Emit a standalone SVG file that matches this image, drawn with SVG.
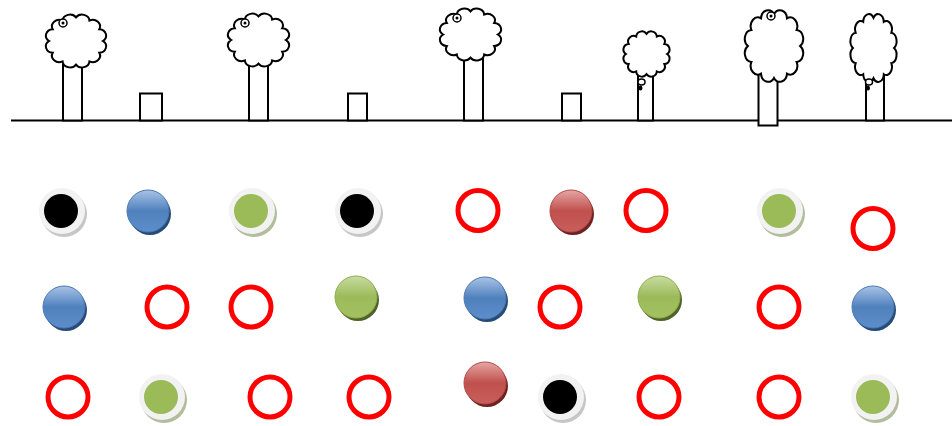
<svg xmlns="http://www.w3.org/2000/svg" xmlns:xlink="http://www.w3.org/1999/xlink" width="952" height="426" viewBox="0 0 952 426">
  <style>
    .line { stroke: #000; stroke-width: 2; fill: none; }
    .trunk { stroke: #000; stroke-width: 2; fill: #fff; }
    .crown { stroke: #000; stroke-width: 2; fill: #fff; }
    .curl { stroke: #000; stroke-width: 1.5; fill: #fff; }
    .ring { stroke: #ff0000; stroke-width: 5; fill: none; }
    .btn-face { fill: #f2f2f2; }
    .shadow-grey { fill: #c6c6c6; }
    .shadow-sage { fill: #b2bd9c; }
    .dot-black { fill: #000; }
    .dot-green { fill: #9bbb59; }
  </style>
  <defs>
    <!-- scalloped crown outline in a 100x100 box; stroke keeps its width when scaled -->
    <path id="cloud" vector-effect="non-scaling-stroke" d="M92,50 A11.5,11.5 0 0 1 86.4,71 A11.5,11.5 0 0 1 71,86.4 A11.5,11.5 0 0 1 50,92 A11.5,11.5 0 0 1 29,86.4 A11.5,11.5 0 0 1 13.6,71 A11.5,11.5 0 0 1 8,50 A11.5,11.5 0 0 1 13.6,29 A11.5,11.5 0 0 1 29,13.6 A11.5,11.5 0 0 1 50,8 A11.5,11.5 0 0 1 71,13.6 A11.5,11.5 0 0 1 86.4,29 A11.5,11.5 0 0 1 92,50 Z"/>
    <linearGradient id="gBlue" x1="0" y1="0" x2="0" y2="1">
      <stop offset="0" stop-color="#a9c2e6"/>
      <stop offset="0.5" stop-color="#4f81bd"/>
      <stop offset="1" stop-color="#5d8ecb"/>
    </linearGradient>
    <linearGradient id="gRed" x1="0" y1="0" x2="0" y2="1">
      <stop offset="0" stop-color="#e6a6a4"/>
      <stop offset="0.5" stop-color="#c0504d"/>
      <stop offset="1" stop-color="#c85f5c"/>
    </linearGradient>
    <linearGradient id="gGreen" x1="0" y1="0" x2="0" y2="1">
      <stop offset="0" stop-color="#c8dba1"/>
      <stop offset="0.5" stop-color="#9bbb59"/>
      <stop offset="1" stop-color="#a4c162"/>
    </linearGradient>
    <!-- glossy balls: dark rim offset below-right, gradient face -->
    <g id="ballBlue">
      <circle cx="2" cy="3" r="21" fill="#274b78"/>
      <circle cx="0" cy="0" r="21" fill="url(#gBlue)" stroke="#4a79b2" stroke-width="1"/>
    </g>
    <g id="ballRed">
      <circle cx="2" cy="3" r="21" fill="#6f2221"/>
      <circle cx="0" cy="0" r="21" fill="url(#gRed)" stroke="#b44a47" stroke-width="1"/>
    </g>
    <g id="ballGreen">
      <circle cx="2" cy="3" r="21" fill="#4f6228"/>
      <circle cx="0" cy="0" r="21" fill="url(#gGreen)" stroke="#8fae50" stroke-width="1"/>
    </g>
    <!-- flat buttons: pale face, offset shadow, coloured centre -->
    <g id="btnBlack">
      <circle cx="3" cy="3" r="23" class="shadow-grey"/>
      <circle cx="1" cy="0" r="23" class="btn-face"/>
      <circle cx="0" cy="0" r="17" class="dot-black"/>
    </g>
    <g id="btnGreen">
      <circle cx="3" cy="3" r="23" class="shadow-sage"/>
      <circle cx="1" cy="0" r="23" class="btn-face"/>
      <circle cx="0" cy="0" r="17" class="dot-green"/>
    </g>
  </defs>

  <!-- ground -->
  <g id="ground">
    <line x1="11" y1="120.5" x2="952" y2="120.5" class="line"/>
  </g>

  <!-- trees and houses -->
  <g id="tree1">
    <rect x="63" y="55" width="19" height="65.5" class="trunk"/>
    <use xlink:href="#cloud" class="crown" transform="translate(44,13) scale(0.64,0.56)"/>
    <circle cx="63" cy="23" r="4" class="curl"/>
    <circle cx="63" cy="23" r="1.5" fill="#000"/>
  </g>
  <g id="house1">
    <rect x="140" y="93.5" width="22" height="27" class="trunk"/>
  </g>
  <g id="tree2">
    <rect x="249" y="55" width="19" height="65.5" class="trunk"/>
    <use xlink:href="#cloud" class="crown" transform="translate(226,12) scale(0.65,0.56)"/>
    <circle cx="245" cy="23" r="4" class="curl"/>
    <circle cx="245" cy="23" r="1.5" fill="#000"/>
  </g>
  <g id="house2">
    <rect x="348" y="93.5" width="19" height="27" class="trunk"/>
  </g>
  <g id="tree3">
    <rect x="464" y="50" width="19" height="70.5" class="trunk"/>
    <use xlink:href="#cloud" class="crown" transform="translate(438,7) scale(0.65,0.55)"/>
    <circle cx="457" cy="18" r="4" class="curl"/>
    <circle cx="457" cy="18" r="1.5" fill="#000"/>
  </g>
  <g id="house3">
    <rect x="562" y="93.5" width="19" height="27" class="trunk"/>
  </g>
  <g id="tree4">
    <rect x="638" y="70" width="15" height="50.5" class="trunk"/>
    <use xlink:href="#cloud" class="crown" transform="translate(622,30) scale(0.49,0.48)"/>
    <ellipse cx="641.5" cy="82" rx="3.5" ry="3" class="curl"/>
    <ellipse cx="640.5" cy="88" rx="2" ry="2.5" fill="#000"/>
  </g>
  <g id="tree5">
    <rect x="758.5" y="70" width="19" height="55.5" class="trunk"/>
    <use xlink:href="#cloud" class="crown" transform="translate(743,8) scale(0.62,0.76)"/>
    <circle cx="771" cy="16" r="4" class="curl"/>
    <circle cx="771" cy="16" r="1.5" fill="#000"/>
  </g>
  <g id="tree6">
    <rect x="866" y="70" width="18" height="50.5" class="trunk"/>
    <use xlink:href="#cloud" class="crown" transform="translate(849,12) scale(0.49,0.72)"/>
    <ellipse cx="869" cy="82" rx="3.5" ry="3" class="curl"/>
    <ellipse cx="868" cy="88" rx="2" ry="2.5" fill="#000"/>
  </g>

  <!-- row 1 -->
  <g id="n1"><use xlink:href="#btnBlack" x="61" y="211"/></g>
  <g id="n2"><use xlink:href="#ballBlue" x="148" y="211"/></g>
  <g id="n3"><use xlink:href="#btnGreen" x="251" y="211"/></g>
  <g id="n4"><use xlink:href="#btnBlack" x="357" y="211"/></g>
  <g id="n5"><circle cx="478" cy="210.5" r="20" class="ring"/></g>
  <g id="n6"><use xlink:href="#ballRed" x="571" y="211"/></g>
  <g id="n7"><circle cx="646" cy="210.5" r="20" class="ring"/></g>
  <g id="n8"><use xlink:href="#btnGreen" x="779" y="211"/></g>
  <g id="n9"><circle cx="873" cy="228.5" r="20" class="ring"/></g>

  <!-- row 2 -->
  <g id="n10"><use xlink:href="#ballBlue" x="64" y="307"/></g>
  <g id="n11"><circle cx="167" cy="307" r="20" class="ring"/></g>
  <g id="n12"><circle cx="251" cy="307" r="20" class="ring"/></g>
  <g id="n13"><use xlink:href="#ballGreen" x="356" y="297"/></g>
  <g id="n14"><use xlink:href="#ballBlue" x="485" y="298"/></g>
  <g id="n15"><circle cx="560" cy="307" r="20" class="ring"/></g>
  <g id="n16"><use xlink:href="#ballGreen" x="659" y="297"/></g>
  <g id="n17"><circle cx="779" cy="307" r="20" class="ring"/></g>
  <g id="n18"><use xlink:href="#ballBlue" x="873" y="307"/></g>

  <!-- row 3 -->
  <g id="n19"><circle cx="68" cy="397" r="20" class="ring"/></g>
  <g id="n20"><use xlink:href="#btnGreen" x="161" y="397"/></g>
  <g id="n21"><circle cx="270" cy="397" r="20" class="ring"/></g>
  <g id="n22"><circle cx="369" cy="397" r="20" class="ring"/></g>
  <g id="n23"><use xlink:href="#ballRed" x="485" y="383"/></g>
  <g id="n24"><use xlink:href="#btnBlack" x="560" y="397"/></g>
  <g id="n25"><circle cx="659" cy="397" r="20" class="ring"/></g>
  <g id="n26"><circle cx="779" cy="397" r="20" class="ring"/></g>
  <g id="n27"><use xlink:href="#btnGreen" x="873" y="397"/></g>

  <!-- no connectors in this picture -->
  <g id="connectors"/>
</svg>
